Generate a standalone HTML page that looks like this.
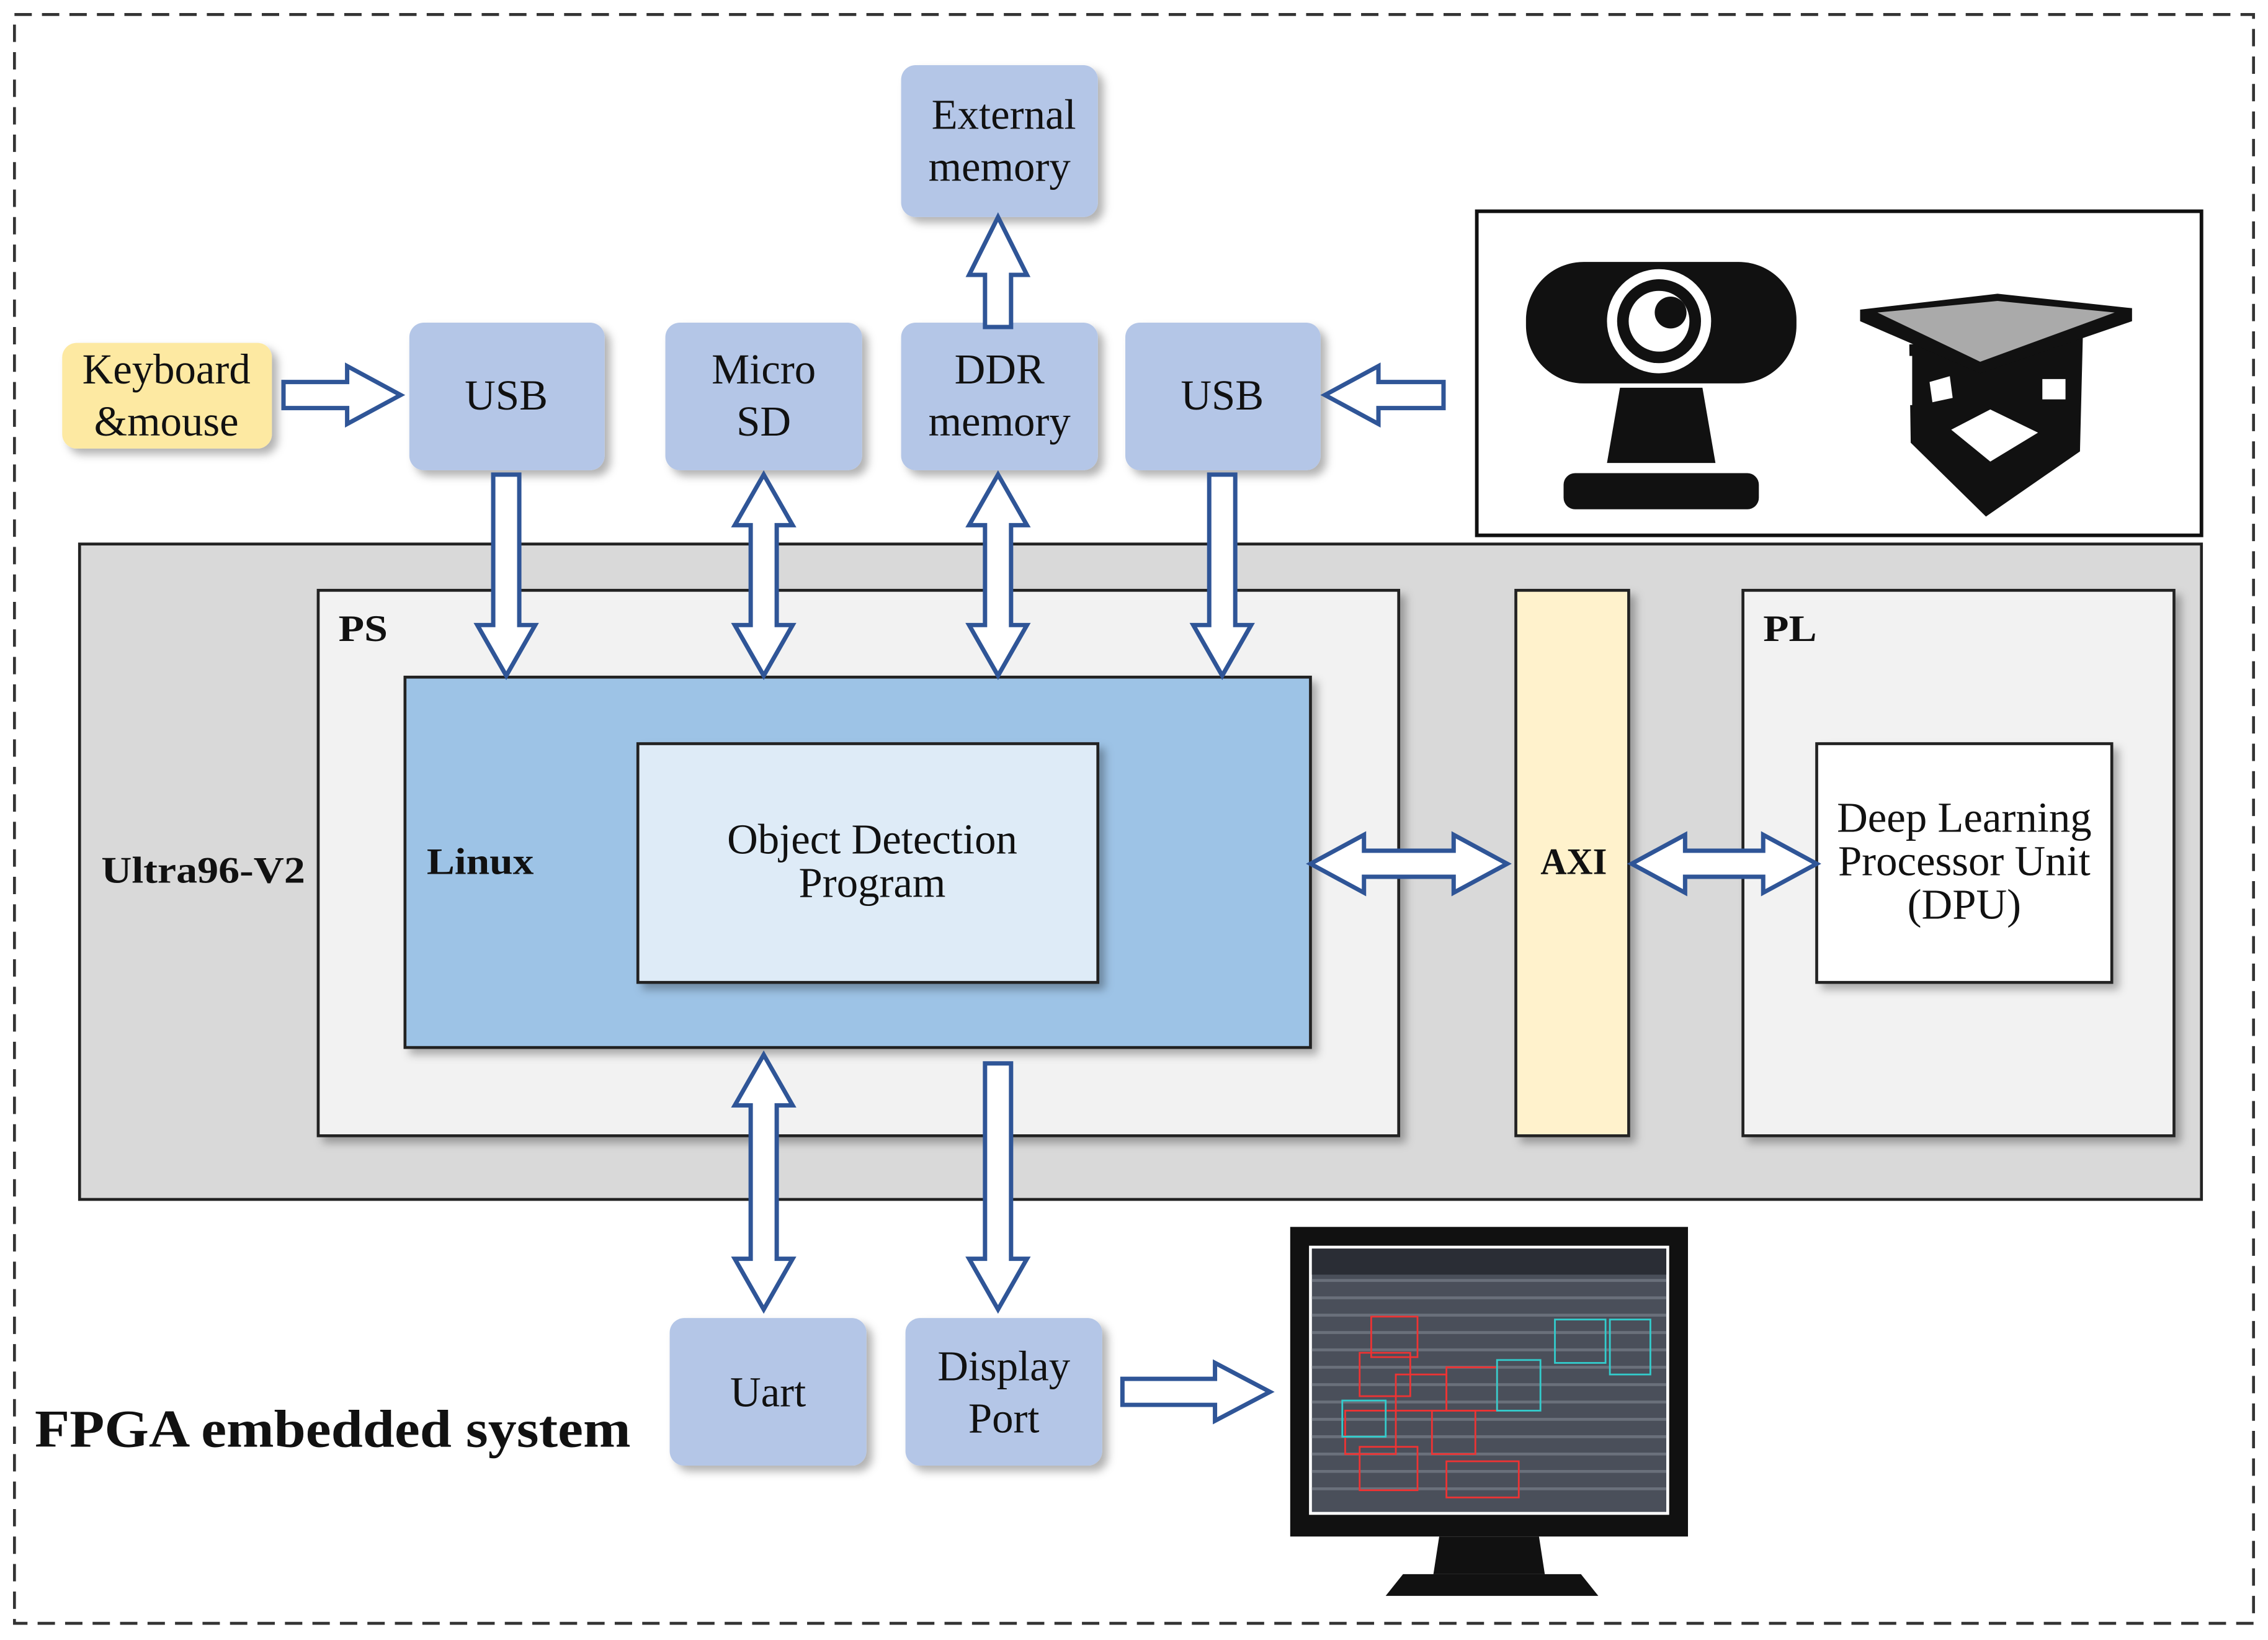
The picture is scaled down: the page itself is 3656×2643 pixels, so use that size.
<!DOCTYPE html>
<html><head><meta charset="utf-8">
<style>
html,body{margin:0;padding:0;background:#fff;}
svg{display:block;}
text{font-family:"Liberation Serif",serif;}
</style></head>
<body>
<svg xmlns="http://www.w3.org/2000/svg" width="3656" height="2643" viewBox="0 0 1568 1133.5">
<defs>
<filter id="sh" x="-20%" y="-20%" width="150%" height="150%">
<feDropShadow dx="4" dy="4" stdDeviation="3" flood-color="#000" flood-opacity="0.3"/>
</filter>
</defs>
<rect width="1568" height="1133.5" fill="#fff"/>
<rect x="10" y="10" width="1548" height="1112" fill="none" stroke="#333" stroke-width="2" stroke-dasharray="12,7"/>

<!-- Ultra96 -->
<rect x="55" y="376" width="1467" height="453" fill="#d9d9d9" stroke="#222" stroke-width="2"/>
<rect x="220" y="408" width="747" height="377" fill="#f2f2f2" stroke="#222" stroke-width="2" filter="url(#sh)"/>
<rect x="280" y="468" width="626" height="256" fill="#9dc3e6" stroke="#222" stroke-width="2" filter="url(#sh)"/>
<rect x="441" y="514" width="318" height="165" fill="#deebf7" stroke="#222" stroke-width="2" filter="url(#sh)"/>
<rect x="1048" y="408" width="78" height="377" fill="#fff2cc" stroke="#222" stroke-width="2" filter="url(#sh)"/>
<rect x="1205" y="408" width="298" height="377" fill="#f2f2f2" stroke="#222" stroke-width="2" filter="url(#sh)"/>
<rect x="1256" y="514" width="204" height="165" fill="#fff" stroke="#222" stroke-width="2" filter="url(#sh)"/>

<g font-weight="bold" font-size="26" fill="#111">
<text x="234" y="443" textLength="34" lengthAdjust="spacingAndGlyphs">PS</text>
<text x="1219" y="443" textLength="37" lengthAdjust="spacingAndGlyphs">PL</text>
<text x="295" y="604" textLength="74" lengthAdjust="spacingAndGlyphs">Linux</text>
<text x="1065" y="604" textLength="46" lengthAdjust="spacingAndGlyphs">AXI</text>
<text x="70" y="610" textLength="141" lengthAdjust="spacingAndGlyphs">Ultra96-V2</text>
</g>
<g font-size="29.5" fill="#111" text-anchor="middle">
<text x="603" y="590">Object Detection</text>
<text x="603" y="620">Program</text>
<text x="1358" y="575">Deep Learning</text>
<text x="1358" y="605">Processor Unit</text>
<text x="1358" y="635">(DPU)</text>
</g>

<!-- top boxes -->
<g filter="url(#sh)">
<rect x="43" y="237" width="145" height="73" rx="10" fill="#fde9a2"/>
<rect x="283" y="223" width="135" height="102" rx="10" fill="#b4c6e7"/>
<rect x="460" y="223" width="136" height="102" rx="10" fill="#b4c6e7"/>
<rect x="623" y="223" width="136" height="102" rx="10" fill="#b4c6e7"/>
<rect x="778" y="223" width="135" height="102" rx="10" fill="#b4c6e7"/>
<rect x="623" y="45" width="136" height="105" rx="10" fill="#b4c6e7"/>
<rect x="463" y="911" width="136" height="102" rx="10" fill="#b4c6e7"/>
<rect x="626" y="911" width="136" height="102" rx="10" fill="#b4c6e7"/>
</g>
<g font-size="29.5" fill="#111" text-anchor="middle">
<text x="115" y="265">Keyboard</text>
<text x="115" y="301">&amp;mouse</text>
<text x="350" y="283">USB</text>
<text x="528" y="265">Micro</text>
<text x="528" y="301">SD</text>
<text x="691" y="265">DDR</text>
<text x="691" y="301">memory</text>
<text x="845" y="283">USB</text>
<text x="694" y="89">External</text>
<text x="691" y="125">memory</text>
<text x="531" y="972">Uart</text>
<text x="694" y="954">Display</text>
<text x="694" y="990">Port</text>
</g>
<text x="24" y="1000" font-size="37" font-weight="bold" fill="#111" textLength="412" lengthAdjust="spacingAndGlyphs">FPGA embedded system</text>

<!-- arrows -->
<g fill="#fff" stroke="#2f5597" stroke-width="3" stroke-linejoin="miter">
<polygon points="341,328 359,328 359,432 370,432 350,467 330,432 341,432"/>
<polygon points="836,328 854,328 854,432 865,432 845,467 825,432 836,432"/>
<polygon points="528,328 548,363 537,363 537,432 548,432 528,467 508,432 519,432 519,363 508,363"/>
<polygon points="690,328 710,363 699,363 699,432 710,432 690,467 670,432 681,432 681,363 670,363"/>
<polygon points="528,729 548,764 537,764 537,870 548,870 528,905 508,870 519,870 519,764 508,764"/>
<polygon points="681,735 699,735 699,870 710,870 690,905 670,870 681,870"/>
<polygon points="690,150 710,190 699,190 699,226 681,226 681,190 670,190"/>
<polygon points="196,264 240,264 240,253 277,273 240,293 240,282 196,282"/>
<polygon points="916,273 953,253 953,264 998,264 998,282 953,282 953,293"/>
<polygon points="906,597 943,577 943,588 1005,588 1005,577 1042,597 1005,617 1005,606 943,606 943,617"/>
<polygon points="1128,597 1165,577 1165,588 1219,588 1219,577 1256,597 1219,617 1219,606 1165,606 1165,617"/>
<polygon points="776,953 840,953 840,942 878,962 840,982 840,971 776,971"/>
</g>

<!-- camera box -->
<rect x="1021" y="146" width="501" height="224" fill="#fff" stroke="#111" stroke-width="2.5"/>
<rect x="1055" y="181" width="187" height="84" rx="40" fill="#111"/>
<circle cx="1147" cy="222" r="36" fill="#fff"/>
<circle cx="1147" cy="222" r="29" fill="#111"/>
<circle cx="1147" cy="222" r="21" fill="#fff"/>
<circle cx="1155" cy="216" r="11" fill="#111"/>
<polygon points="1120,268 1177,268 1186,320 1111,320" fill="#111"/>
<rect x="1081" y="327" width="135" height="25" rx="8" fill="#111"/>
<!-- platform -->
<polygon points="1320,238 1440,232 1438,312 1373,357 1321,306" fill="#111"/>
<polygon points="1286,214 1381,203 1474,213 1474,222 1369,258 1286,222" fill="#111"/>
<polygon points="1298,216 1381,208 1462,216 1369,250" fill="#aaa"/>
<polygon points="1349,297 1376,283 1409,299 1376,319" fill="#fff"/>
<polygon points="1334,264 1348,260 1350,275 1336,278" fill="#fff"/>
<polygon points="1412,262 1428,262 1428,276 1412,276" fill="#fff"/>
<polygon points="1315,246 1322,246 1322,280 1315,280" fill="#fff"/>

<!-- monitor -->
<rect x="892" y="848" width="275" height="214" fill="#111"/>
<rect x="905" y="861" width="249" height="186" fill="#fff"/>
<rect x="907" y="863" width="245" height="182" fill="#4a4f5a"/>
<g stroke="#6a707b" stroke-width="2">
<line x1="907" y1="885" x2="1152" y2="885"/><line x1="907" y1="897" x2="1152" y2="897"/>
<line x1="907" y1="909" x2="1152" y2="909"/><line x1="907" y1="921" x2="1152" y2="921"/>
<line x1="907" y1="933" x2="1152" y2="933"/><line x1="907" y1="945" x2="1152" y2="945"/>
<line x1="907" y1="957" x2="1152" y2="957"/><line x1="907" y1="969" x2="1152" y2="969"/>
<line x1="907" y1="981" x2="1152" y2="981"/><line x1="907" y1="993" x2="1152" y2="993"/>
<line x1="907" y1="1005" x2="1152" y2="1005"/><line x1="907" y1="1017" x2="1152" y2="1017"/>
<line x1="907" y1="1029" x2="1152" y2="1029"/>
</g>
<rect x="907" y="863" width="245" height="18" fill="#2a2d35"/>
<g fill="none" stroke-width="1.2">
<rect x="948" y="910" width="32" height="28" stroke="#e33"/>
<rect x="940" y="935" width="35" height="30" stroke="#e33"/>
<rect x="965" y="950" width="35" height="25" stroke="#e33"/>
<rect x="1000" y="945" width="35" height="30" stroke="#e33"/>
<rect x="930" y="975" width="35" height="30" stroke="#e33"/>
<rect x="990" y="975" width="30" height="30" stroke="#e33"/>
<rect x="940" y="1000" width="40" height="30" stroke="#e33"/>
<rect x="1000" y="1010" width="50" height="25" stroke="#e33"/>
<rect x="1035" y="940" width="30" height="35" stroke="#3cc"/>
<rect x="1075" y="912" width="35" height="30" stroke="#3cc"/>
<rect x="1113" y="912" width="28" height="38" stroke="#3cc"/>
<rect x="928" y="968" width="30" height="25" stroke="#3cc"/>
</g>
<polygon points="995,1062 1064,1062 1068,1088 991,1088" fill="#111"/>
<polygon points="970,1088 1093,1088 1105,1103 958,1103" fill="#111"/>
</svg>
</body></html>
